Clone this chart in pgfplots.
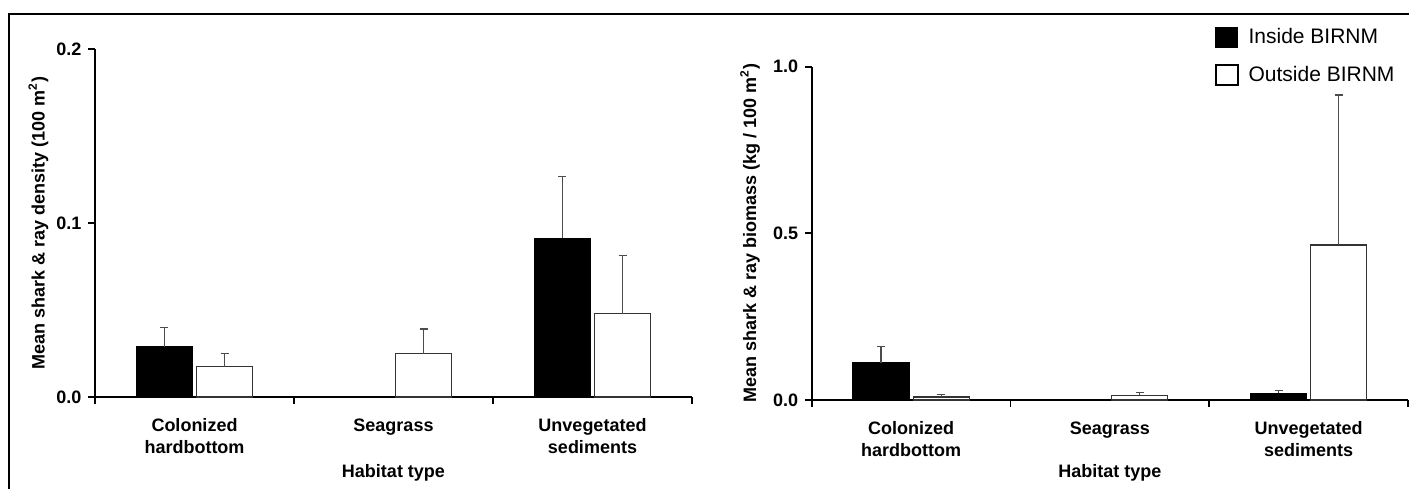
\documentclass[border=0pt]{standalone}
\usepackage{pgfplots}
\pgfplotsset{compat=1.18}
\usepackage{fontspec}
\setmainfont{Liberation Sans}
\definecolor{errc}{gray}{0.3}
\pgfplotsset{
  myaxis/.style={
    scale only axis,
    xmin=0, xmax=3, ymin=0,
    axis x line*=bottom, axis y line*=left,
    axis line style={line width=0.9pt},
    xtick={0,1,2,3},
    xticklabels={{Colonized\\hardbottom},{Seagrass},{Unvegetated\\sediments}},
    x tick label as interval,
    tick align=outside,
    major tick length=3.3pt,
    tick style={black, line width=0.9pt},
    ticklabel style={font=\fontsize{9}{11}\selectfont\bfseries},
    xticklabel style={align=center, yshift=-4pt},
    /pgf/number format/assume math mode=true,
    yticklabel={\pgfmathprintnumber[fixed,fixed zerofill,precision=1,assume math mode=true]{\tick}},
    clip=false,
  },
  inbar/.style={ybar, bar width=28pt, bar shift=0pt, fill=black, draw=black, line width=0.6pt,
    error bars/.cd, y dir=plus, y explicit,
    error bar style={errc, line width=0.6pt},
    error mark options={errc, line width=0.6pt, mark size=2pt, rotate=90}},
  outbar/.style={ybar, bar width=28pt, bar shift=0pt, fill=white, draw=black!80, line width=0.6pt,
    error bars/.cd, y dir=plus, y explicit,
    error bar style={errc, line width=0.6pt},
    error mark options={errc, line width=0.6pt, mark size=2pt, rotate=90}},
}
\begin{document}
\begin{tikzpicture}
\path[use as bounding box] (0,0) rectangle (704.5pt,244.5pt);
\draw[line width=1pt] (4.5pt,0) -- (4.5pt,237.5pt) -- (704.5pt,237.5pt);

\begin{axis}[myaxis,
  at={(47.5pt,46pt)}, anchor=south west,
  width=298.5pt, height=174pt,
  ymax=0.2, ytick={0,0.1,0.2},
  ylabel={Mean shark \& ray density (100 m\textsuperscript{2})},
  xlabel={Habitat type},
  every axis y label/.style={at={(axis description cs:0,0.5)}, xshift=-28.3pt, rotate=90, anchor=center, font=\fontsize{9}{11}\selectfont\bfseries},
  every axis x label/.style={at={(axis description cs:0.5,0)}, yshift=-38pt, anchor=center, font=\fontsize{9}{11}\selectfont\bfseries},
]
\addplot[inbar] coordinates {(0.349,0.0288) +- (0,0.0113) (2.349,0.0911) +- (0,0.0357)};
\addplot[outbar] coordinates {(0.651,0.0174) +- (0,0.0078) (1.651,0.0249) +- (0,0.0142) (2.651,0.0478) +- (0,0.0334)};
\end{axis}

\begin{axis}[myaxis,
  at={(405.85pt,44.5pt)}, anchor=south west,
  width=298.15pt, height=166.67pt,
  ymax=1.0, ytick={0,0.5,1},
  ylabel={Mean shark \& ray biomass (kg / 100 m\textsuperscript{2})},
  xlabel={Habitat type},
  every axis y label/.style={at={(axis description cs:0,0.5)}, xshift=-30.8pt, rotate=90, anchor=center, font=\fontsize{9}{11}\selectfont\bfseries},
  every axis x label/.style={at={(axis description cs:0.5,0)}, yshift=-36.5pt, anchor=center, font=\fontsize{9}{11}\selectfont\bfseries},
  legend style={draw=none, fill=none, at={(axis description cs:0.675,1.129)}, anchor=north west,
    inner sep=0pt, row sep=6pt, font=\fontsize{10.5}{12}\selectfont,
    /tikz/every odd column/.append style={column sep=3pt}},
  legend cell align=left,
]
\addplot[legend image code/.code={\fill[black] (0pt,-5pt) rectangle (11pt,5pt);}, inbar]
  coordinates {(0.349,0.112) +- (0,0.048) (2.349,0.020) +- (0,0.009)};
\addlegendentry{Inside BIRNM}
\addplot[legend image code/.code={\draw[black, line width=1pt, fill=white] (0pt,-5pt) rectangle (11pt,5pt);}, outbar]
  coordinates {(0.651,0.009) +- (0,0.008) (1.651,0.014) +- (0,0.009) (2.651,0.465) +- (0,0.450)};
\addlegendentry{Outside BIRNM}
\end{axis}
\end{tikzpicture}
\end{document}
